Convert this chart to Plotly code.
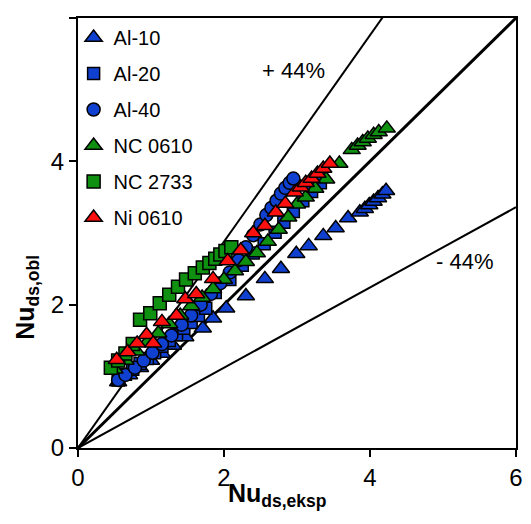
import plotly.graph_objects as go

# Al-10
al10_x = [0.55, 0.7, 0.85, 1.0, 1.15, 1.3, 1.47, 1.71, 1.85, 2.03, 2.30, 2.56, 2.78, 2.99, 3.16, 3.36, 3.53, 3.70, 3.86, 3.93, 3.99, 4.05, 4.11, 4.17, 4.22]
al10_y = [0.92, 1.02, 1.12, 1.22, 1.32, 1.43, 1.55, 1.67, 1.81, 1.95, 2.12, 2.36, 2.50, 2.71, 2.82, 2.96, 3.07, 3.21, 3.29, 3.34, 3.39, 3.44, 3.49, 3.54, 3.59]
# Al-20
al20_x = [0.55, 0.65, 0.75, 0.85, 0.95, 1.05, 1.15, 1.25, 1.35, 1.45, 1.55, 1.65, 1.75, 1.88, 2.08, 2.25, 2.40, 2.55, 2.70, 2.82, 2.95, 3.08, 3.20, 3.32]
al20_y = [0.95, 1.03, 1.10, 1.18, 1.25, 1.33, 1.42, 1.50, 1.58, 1.67, 1.75, 1.85, 1.95, 2.17, 2.35, 2.55, 2.72, 2.85, 3.01, 3.15, 3.30, 3.45, 3.58, 3.70]
# Al-40
al40_x = [0.55, 0.65, 0.78, 0.90, 1.02, 1.15, 1.28, 1.42, 1.55, 1.68, 1.82, 1.95, 2.08, 2.20, 2.30, 2.40, 2.50, 2.58, 2.65, 2.72, 2.78, 2.84, 2.90, 2.95]
al40_y = [0.95, 1.02, 1.12, 1.22, 1.33, 1.45, 1.57, 1.72, 1.85, 2.00, 2.15, 2.30, 2.45, 2.62, 2.80, 2.97, 3.12, 3.25, 3.35, 3.45, 3.55, 3.63, 3.70, 3.76]
# NC 0610
nc0610_x = [0.50, 0.65, 0.80, 0.95, 1.10, 1.25, 1.40, 1.55, 1.70, 1.85, 2.00, 2.15, 2.30, 2.45, 2.60, 2.75, 2.88, 3.00, 3.12, 3.25, 3.40, 3.58, 3.75, 3.83, 3.90, 3.97, 4.05, 4.12, 4.23]
nc0610_y = [1.10, 1.22, 1.35, 1.48, 1.60, 1.73, 1.85, 1.98, 2.10, 2.22, 2.35, 2.47, 2.60, 2.72, 2.88, 3.05, 3.22, 3.40, 3.50, 3.62, 3.75, 3.97, 4.16, 4.22, 4.27, 4.32, 4.37, 4.41, 4.46]
# NC 2733
nc2733_x = [0.45, 0.55, 0.65, 0.75, 0.85, 0.99, 1.12, 1.25, 1.37, 1.48, 1.60, 1.71, 1.80, 1.88, 1.95, 2.02, 2.10]
nc2733_y = [1.12, 1.22, 1.32, 1.45, 1.79, 1.88, 2.02, 2.14, 2.25, 2.35, 2.44, 2.52, 2.58, 2.64, 2.70, 2.75, 2.80]
# Ni 0610
ni0610_x = [0.53, 0.68, 0.81, 0.94, 1.03, 1.15, 1.35, 1.47, 1.62, 1.85, 2.05, 2.23, 2.40, 2.56, 2.71, 2.84, 2.97, 3.05, 3.12, 3.20, 3.28, 3.36, 3.45]
ni0610_y = [1.23, 1.34, 1.46, 1.58, 1.46, 1.76, 1.85, 2.08, 2.15, 2.36, 2.61, 2.76, 3.00, 3.10, 3.29, 3.41, 3.57, 3.64, 3.70, 3.76, 3.83, 3.90, 3.97]

line_x = [0, 6]
line_ideal = [0, 6]
line_plus = [0, 6 * 1.44]
line_minus = [0, 6 * 0.56]

fig = go.Figure()

# reference lines
fig.add_trace(go.Scatter(x=line_x, y=line_ideal, mode="lines", line=dict(color="black", width=3), showlegend=False, hoverinfo="skip"))
fig.add_trace(go.Scatter(x=line_x, y=line_plus, mode="lines", line=dict(color="black", width=2), showlegend=False, hoverinfo="skip"))
fig.add_trace(go.Scatter(x=line_x, y=line_minus, mode="lines", line=dict(color="black", width=2), showlegend=False, hoverinfo="skip"))

blue = "#1040d0"
green = "#109010"
red = "#ff1010"
outline = dict(color="black", width=1.5)

series = [
    ("Al-10", al10_x, al10_y, "triangle-up", blue, 15),
    ("Al-20", al20_x, al20_y, "square", blue, 12),
    ("Al-40", al40_x, al40_y, "circle", blue, 13),
    ("NC 0610", nc0610_x, nc0610_y, "triangle-up", green, 15),
    ("NC 2733", nc2733_x, nc2733_y, "square", green, 13),
    ("Ni 0610", ni0610_x, ni0610_y, "triangle-up", red, 15),
]
for name, xs, ys, sym, col, sz in series:
    fig.add_trace(go.Scatter(x=xs, y=ys, mode="markers", name=name, legendgroup=name,
                             marker=dict(symbol=sym, color=col, size=sz, line=outline)))

fig.add_annotation(x=2.95, y=5.27, text="+ 44%", showarrow=False, font=dict(size=22, color="black"))
fig.add_annotation(x=5.3, y=2.6, text="- 44%", showarrow=False, font=dict(size=22, color="black"))

# axis titles
fig.add_annotation(x=0.455, y=-0.11, xref="paper", yref="paper", xanchor="center", yanchor="middle",
                   text="<b>Nu<sub>ds,eksp</sub></b>", showarrow=False, font=dict(size=25, color="black"))
fig.add_annotation(x=-0.118, y=0.35, xref="paper", yref="paper", xanchor="center", yanchor="middle",
                   text="<b>Nu<sub>ds,obl</sub></b>", showarrow=False, textangle=-90,
                   font=dict(size=25, color="black"))

fig.update_xaxes(range=[0, 6], tickvals=[0, 2, 4, 6], showgrid=False, zeroline=False,
                 showline=True, linecolor="black", linewidth=2, mirror=True,
                 ticks="outside", ticklen=7, tickwidth=1.5, tickcolor="black",
                 tickfont=dict(size=24, color="black"), automargin=False)
fig.update_yaxes(range=[0, 6], tickvals=[0, 2, 4, 6], showgrid=False, zeroline=False,
                 showline=True, linecolor="black", linewidth=2, mirror=True,
                 ticks="outside", ticklen=7, tickwidth=1.5, tickcolor="black",
                 tickfont=dict(size=24, color="black"), automargin=False)

# page body has an 8px margin, so the figure is a bit smaller than the window
fig.update_layout(
    width=515, height=508,
    margin=dict(l=70, r=7, t=10, b=68),
    plot_bgcolor="white", paper_bgcolor="white",
    font=dict(family="Arial, Liberation Sans", color="black"),
    legend=dict(x=-0.01, y=1.0, xanchor="left", yanchor="top", bgcolor="rgba(0,0,0,0)",
                font=dict(size=20, color="black"), itemwidth=30, tracegroupgap=7),
)

fig.write_html("out.html")
